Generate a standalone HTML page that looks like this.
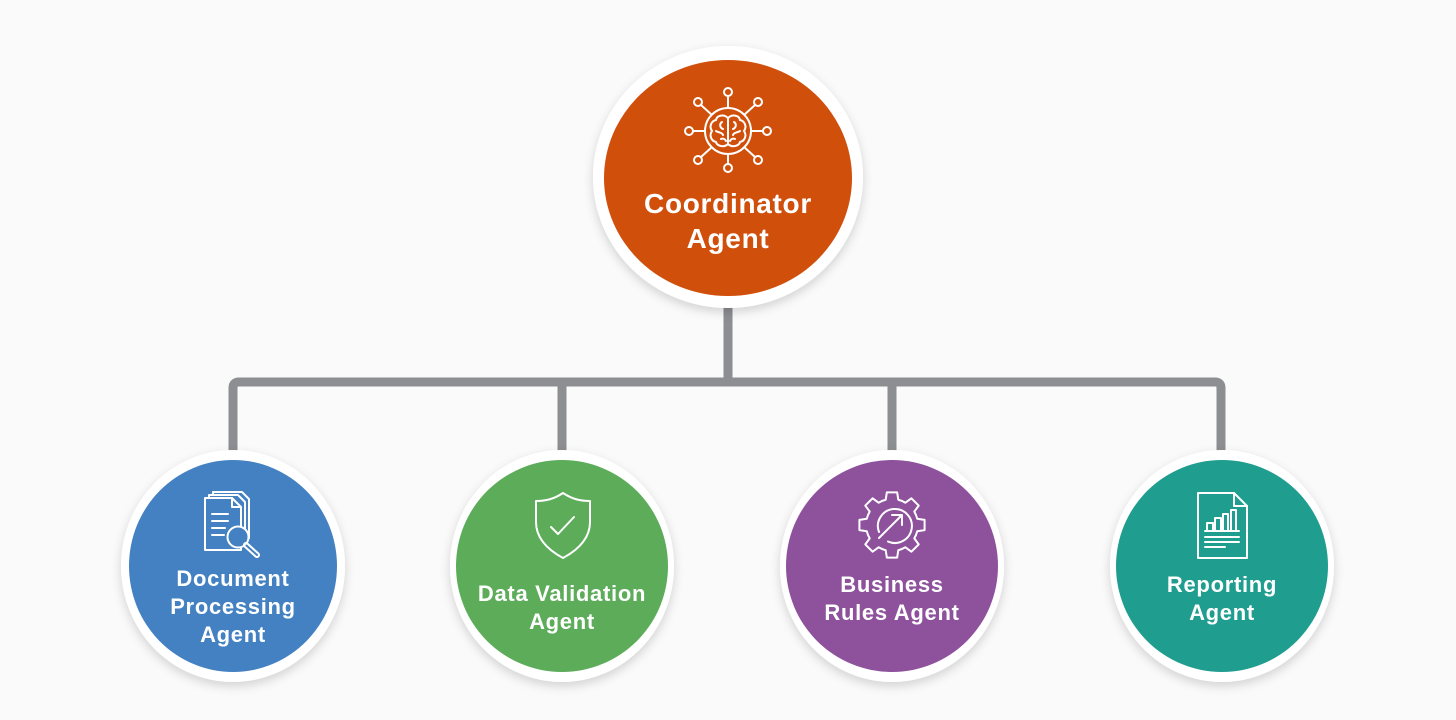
<!DOCTYPE html>
<html><head><meta charset="utf-8"><style>
html,body{margin:0;padding:0;background:#fafafa;}
svg{display:block;}
text{font-family:"Liberation Sans",sans-serif;font-weight:bold;fill:#fff;text-anchor:middle;}
</style></head><body>
<svg width="1456" height="720" viewBox="0 0 1456 720" xmlns="http://www.w3.org/2000/svg">
<defs>
<filter id="sh" x="-30%" y="-30%" width="160%" height="160%">
<feDropShadow dx="0" dy="4" stdDeviation="5" flood-color="#000" flood-opacity="0.16"/>
</filter>
</defs>
<rect width="1456" height="720" fill="#fafafa"/>
<!-- connectors -->
<g stroke="#8d8e92" stroke-width="9" fill="none" stroke-linejoin="round">
<line x1="728" y1="290" x2="728" y2="382"/>
<path d="M233 458 V388 Q233 382 239 382 H1215 Q1221 382 1221 388 V458"/>
<line x1="562" y1="382" x2="562" y2="458"/>
<line x1="892" y1="382" x2="892" y2="458"/>
</g>
<!-- coordinator -->
<ellipse cx="728" cy="177" rx="135" ry="131" fill="#fff" filter="url(#sh)"/>
<ellipse cx="728" cy="178" rx="124" ry="118" fill="#d04f0b"/>
<g stroke="#fff" stroke-width="2" fill="none" stroke-linecap="round">
<circle cx="728" cy="131" r="23"/>
<line x1="728" y1="108" x2="728" y2="96"/><circle cx="728" cy="92" r="4"/>
<line x1="728" y1="154" x2="728" y2="164"/><circle cx="728" cy="168" r="4"/>
<line x1="705" y1="131" x2="693" y2="131"/><circle cx="689" cy="131" r="4"/>
<line x1="751" y1="131" x2="763" y2="131"/><circle cx="767" cy="131" r="4"/>
<line x1="711.7" y1="114.7" x2="701" y2="105"/><circle cx="698" cy="102" r="4"/>
<line x1="744.3" y1="114.7" x2="755" y2="105"/><circle cx="758" cy="102" r="4"/>
<line x1="711.7" y1="147.3" x2="701" y2="157"/><circle cx="698" cy="160" r="4"/>
<line x1="744.3" y1="147.3" x2="755" y2="157"/><circle cx="758" cy="160" r="4"/>
<!-- brain -->
<path d="M728 118 C724 114 717 115 716 120 C711 121 709 127 712 131 C709 135 711 141 716 142 C717 146 724 148 728 144 Z"/>
<path d="M728 118 C732 114 739 115 740 120 C745 121 747 127 744 131 C747 135 745 141 740 142 C739 146 732 148 728 144 Z"/>
<path d="M722 122 C719 124 720 128 723 129 M716 131 C719 133 722 132 723 135 M721 139 C723 138 725 139 726 141"/>
<path d="M734 122 C737 124 736 128 733 129 M740 131 C737 133 734 132 733 135 M735 139 C733 138 731 139 730 141"/>
</g>
<text x="728" y="213" font-size="28" letter-spacing="0.7">Coordinator</text>
<text x="728" y="248" font-size="28" letter-spacing="0.7">Agent</text>

<!-- Document Processing -->
<ellipse cx="233" cy="566" rx="112" ry="116" fill="#fff" filter="url(#sh)"/>
<ellipse cx="233" cy="566" rx="104" ry="106" fill="#4481c2"/>
<g stroke="#fff" stroke-width="2" fill="none" stroke-linecap="round" stroke-linejoin="round">
<path d="M213 495 V492 H242 L249 499 V538 H246"/>
<path d="M209 498 V495 H238 L245 502 V542 H241"/>
<path d="M205 498 H232 L241 507 V550 H205 Z" fill="#4481c2"/>
<path d="M232 498 V507 H241"/>
<line x1="212" y1="514" x2="228" y2="514"/>
<line x1="212" y1="521" x2="228" y2="521"/>
<line x1="212" y1="528" x2="225" y2="528"/>
<line x1="212" y1="535" x2="224" y2="535"/>
<circle cx="238" cy="537" r="10.5" fill="#4481c2"/>
<line x1="246" y1="545" x2="257" y2="555" stroke-width="6"/>
<line x1="246.5" y1="545.5" x2="257" y2="555" stroke="#4481c2" stroke-width="2"/>
</g>
<text x="233" y="586" font-size="22" letter-spacing="0.7">Document</text>
<text x="233" y="614" font-size="22" letter-spacing="0.7">Processing</text>
<text x="233" y="642" font-size="22" letter-spacing="0.7">Agent</text>

<!-- Data Validation -->
<ellipse cx="562" cy="566" rx="112" ry="116" fill="#fff" filter="url(#sh)"/>
<ellipse cx="562" cy="566" rx="106" ry="106" fill="#5cac5a"/>
<g stroke="#fff" stroke-width="2" fill="none" stroke-linecap="round" stroke-linejoin="round">
<path d="M563 493 C554 499 546 501 536 501 L536 522 C536 540 550 551 563 558 C576 551 590 540 590 522 L590 501 C580 501 572 499 563 493 Z"/>
<path d="M551 527 L558 534 L574 517"/>
</g>
<text x="562" y="601" font-size="22" letter-spacing="0.7">Data Validation</text>
<text x="562" y="629" font-size="22" letter-spacing="0.7">Agent</text>

<!-- Business Rules -->
<ellipse cx="892" cy="566" rx="112" ry="116" fill="#fff" filter="url(#sh)"/>
<ellipse cx="892" cy="566" rx="106" ry="106" fill="#8e529d"/>
<g stroke="#fff" stroke-width="2" fill="none" stroke-linecap="round" stroke-linejoin="round">
<path d="M885.71 499.77 L886.84 492.41 L897.16 492.41 L898.29 499.77 A26 26 0 0 1 905.39 502.71 L911.40 498.30 L918.70 505.60 L914.29 511.61 A26 26 0 0 1 917.23 518.71 L924.59 519.84 L924.59 530.16 L917.23 531.29 A26 26 0 0 1 914.29 538.39 L918.70 544.40 L911.40 551.70 L905.39 547.29 A26 26 0 0 1 898.29 550.23 L897.16 557.59 L886.84 557.59 L885.71 550.23 A26 26 0 0 1 878.61 547.29 L872.60 551.70 L865.30 544.40 L869.71 538.39 A26 26 0 0 1 866.77 531.29 L859.41 530.16 L859.41 519.84 L866.77 518.71 A26 26 0 0 1 869.71 511.61 L865.30 505.60 L872.60 498.30 L878.61 502.71 A26 26 0 0 1 885.71 499.77 Z"/>
<path d="M879 532 A17 17 0 1 1 888 541.5"/>
<line x1="879" y1="538" x2="901" y2="516"/>
<path d="M892 515 H902 V525"/>
</g>
<text x="892" y="592" font-size="22" letter-spacing="0.7">Business</text>
<text x="892" y="620" font-size="22" letter-spacing="0.7">Rules Agent</text>

<!-- Reporting -->
<ellipse cx="1222" cy="566" rx="112" ry="116" fill="#fff" filter="url(#sh)"/>
<ellipse cx="1222" cy="566" rx="106" ry="106" fill="#1f9d8f"/>
<g stroke="#fff" stroke-width="2" fill="none" stroke-linecap="round" stroke-linejoin="round">
<path d="M1198 493 H1234 L1247 506 V558 H1198 Z"/>
<path d="M1234 493 V506 H1247"/>
<rect x="1207" y="523" width="6" height="8"/>
<rect x="1215" y="518" width="6" height="13"/>
<rect x="1223" y="514" width="5" height="17"/>
<rect x="1231" y="510" width="5" height="21"/>
<line x1="1205" y1="531" x2="1239" y2="531"/>
<line x1="1205" y1="537" x2="1239" y2="537"/>
<line x1="1205" y1="542" x2="1239" y2="542"/>
<line x1="1205" y1="547" x2="1225" y2="547"/>
</g>
<text x="1222" y="592" font-size="22" letter-spacing="0.7">Reporting</text>
<text x="1222" y="620" font-size="22" letter-spacing="0.7">Agent</text>
</svg>
</body></html>
